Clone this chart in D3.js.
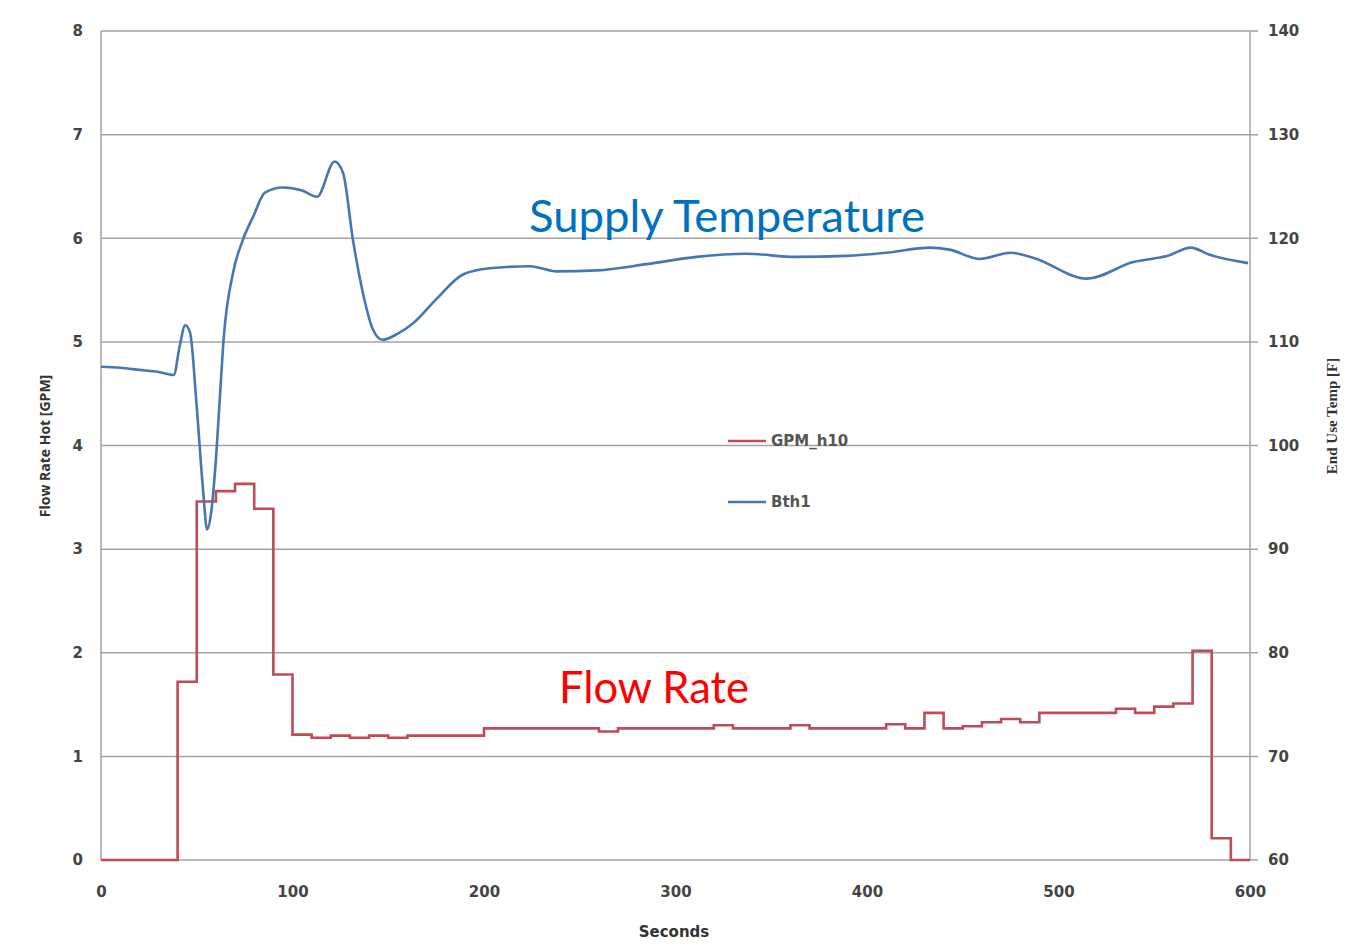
<!DOCTYPE html>
<html>
<head>
<meta charset="utf-8">
<script src="https://cdn.jsdelivr.net/npm/d3@7"></script>
<style>
  body { margin: 0; background: #fff; }
  svg { display: block; }
</style>
</head>
<body>
<svg width="1354" height="952"></svg>
<script>
// flow rate steps (seconds -> GPM), every 10 s
const flowTime = [0, 10, 20, 30, 40, 50, 60, 70, 80, 90, 100, 110, 120, 130, 140, 150, 160, 170, 180, 190,
  200, 210, 220, 230, 240, 250, 260, 270, 280, 290, 300, 310, 320, 330, 340, 350, 360, 370, 380, 390,
  400, 410, 420, 430, 440, 450, 460, 470, 480, 490, 500, 510, 520, 530, 540, 550, 560, 570, 580, 590, 600];
const flowGpm = [0, 0, 0, 0, 1.72, 3.46, 3.56, 3.63, 3.39, 1.79, 1.21, 1.18, 1.2, 1.18, 1.2, 1.18, 1.2, 1.2, 1.2, 1.2,
  1.27, 1.27, 1.27, 1.27, 1.27, 1.27, 1.24, 1.27, 1.27, 1.27, 1.27, 1.27, 1.3, 1.27, 1.27, 1.27, 1.3, 1.27, 1.27, 1.27,
  1.27, 1.31, 1.27, 1.42, 1.27, 1.29, 1.33, 1.36, 1.33, 1.42, 1.42, 1.42, 1.42, 1.46, 1.42, 1.48, 1.51, 2.02, 0.21, 0, 0];

// end use temperature (seconds -> F)
const tempTime = [0, 10, 20, 30, 38, 41, 44, 46.5, 50, 53.3, 55.4, 57.5, 59.5, 62, 64, 69, 74, 79.5, 85.6, 95,
  105, 112.8, 122, 126.4, 131.6, 136.8, 142, 147, 155, 163, 175, 189, 203, 224, 238, 259, 285, 311, 337,
  363, 389, 410, 433, 443, 459, 475, 487, 515, 539, 557, 569, 579, 599];
const tempF = [107.6, 107.5, 107.3, 107.1, 106.8, 109.5, 111.6, 110.9, 103.7, 95.7, 91.9, 93.5, 97.4, 104.4, 110.2, 116.7, 119.8, 122.1, 124.4, 124.9,
  124.6, 124.0, 127.4, 126.3, 119.8, 114.7, 111.2, 110.2, 110.8, 111.8, 114.1, 116.5, 117.1, 117.3, 116.8, 116.9, 117.5, 118.2, 118.5,
  118.2, 118.3, 118.6, 119.1, 118.9, 118.0, 118.6, 118.1, 116.1, 117.7, 118.3, 119.1, 118.4, 117.6];

const xTicks = [0, 100, 200, 300, 400, 500, 600];
const leftTicks = [0, 1, 2, 3, 4, 5, 6, 7, 8];
const rightTicks = [60, 70, 80, 90, 100, 110, 120, 130, 140];

const svg = d3.select("svg");
const plotLeft = 101, plotRight = 1250, plotTop = 31, plotBottom = 860;

const x = d3.scaleLinear().domain([0, 600]).range([plotLeft, plotRight]);
const yL = d3.scaleLinear().domain([0, 8]).range([plotBottom, plotTop]);
const yR = d3.scaleLinear().domain([60, 140]).range([plotBottom, plotTop]);

const numFont = "'DejaVu Sans', sans-serif";

// gridlines
svg.append("g")
  .selectAll("line")
  .data(leftTicks)
  .join("line")
  .attr("x1", plotLeft).attr("x2", plotRight + 8)
  .attr("y1", d => yL(d)).attr("y2", d => yL(d))
  .attr("stroke", "#a3a3a3").attr("stroke-width", 1.5);

// axis lines
svg.append("line").attr("x1", plotLeft).attr("x2", plotLeft).attr("y1", plotTop).attr("y2", plotBottom)
  .attr("stroke", "#a3a3a3").attr("stroke-width", 1.5);
svg.append("line").attr("x1", plotRight).attr("x2", plotRight).attr("y1", plotTop).attr("y2", plotBottom)
  .attr("stroke", "#a3a3a3").attr("stroke-width", 1.5);

// left axis
const gl = svg.append("g")
  .attr("transform", `translate(${plotLeft},0)`)
  .call(d3.axisLeft(yL).tickValues(leftTicks).tickSize(0).tickPadding(18));
gl.select(".domain").remove();
gl.selectAll("text").attr("font-family", numFont).attr("font-weight", "bold")
  .attr("font-size", 15).attr("fill", "#444");

// right axis
const gr = svg.append("g")
  .attr("transform", `translate(${plotRight},0)`)
  .call(d3.axisRight(yR).tickValues(rightTicks).tickSize(0).tickPadding(18));
gr.select(".domain").remove();
gr.selectAll("text").attr("font-family", numFont).attr("font-weight", "bold")
  .attr("font-size", 15).attr("fill", "#444");

// bottom axis
const gb = svg.append("g")
  .attr("transform", `translate(0,${plotBottom})`)
  .call(d3.axisBottom(x).tickValues(xTicks).tickSize(0).tickPadding(26));
gb.select(".domain").remove();
gb.selectAll("text").attr("font-family", numFont).attr("font-weight", "bold")
  .attr("font-size", 15).attr("fill", "#444");

// axis titles
svg.append("text")
  .attr("transform", "translate(50,446) rotate(-90)")
  .attr("text-anchor", "middle")
  .attr("font-family", "'Open Sans', sans-serif").attr("font-weight", "bold")
  .attr("font-size", 14).attr("fill", "#333")
  .text("Flow Rate Hot [GPM]");

svg.append("text")
  .attr("transform", "translate(1337,416) rotate(-90)")
  .attr("text-anchor", "middle")
  .attr("font-family", "'Liberation Serif', serif").attr("font-weight", "bold")
  .attr("font-size", 15).attr("fill", "#333")
  .text("End Use Temp [F]");

svg.append("text")
  .attr("x", 674).attr("y", 937)
  .attr("text-anchor", "middle")
  .attr("font-family", numFont).attr("font-weight", "bold")
  .attr("font-size", 15).attr("fill", "#333")
  .text("Seconds");

// series
const flowData = flowTime.map((t, i) => ({ t, v: flowGpm[i] }));
const tempData = tempTime.map((t, i) => ({ t, v: tempF[i] }));

svg.append("path")
  .datum(flowData)
  .attr("fill", "none")
  .attr("stroke", "#be4b55")
  .attr("stroke-width", 2.6)
  .attr("d", d3.line().x(d => x(d.t)).y(d => yL(d.v)).curve(d3.curveStepAfter));

svg.append("path")
  .datum(tempData)
  .attr("fill", "none")
  .attr("stroke", "#4676b4")
  .attr("stroke-width", 2.6)
  .attr("d", d3.line().x(d => x(d.t)).y(d => yR(d.v)).curve(d3.curveMonotoneX));

// legend
const legend = [{ name: "GPM_h10", color: "#be4b55", y: 441 }, { name: "Bth1", color: "#4676b4", y: 502 }];
const lg = svg.append("g").selectAll("g").data(legend).join("g")
  .attr("transform", d => `translate(728,${d.y})`);
lg.append("line").attr("x1", 0).attr("x2", 38).attr("y1", 0).attr("y2", 0)
  .attr("stroke", d => d.color).attr("stroke-width", 2.6);
lg.append("text").attr("x", 43).attr("y", 5)
  .attr("font-family", numFont).attr("font-weight", "bold")
  .attr("font-size", 15).attr("fill", "#555")
  .text(d => d.name);

// annotations
svg.append("text")
  .attr("x", 529).attr("y", 232)
  .attr("textLength", 396).attr("lengthAdjust", "spacingAndGlyphs")
  .attr("font-family", "Lato, 'Open Sans', sans-serif")
  .attr("font-size", 44).attr("fill", "#0070c0")
  .text("Supply Temperature");

svg.append("text")
  .attr("x", 559).attr("y", 703)
  .attr("textLength", 190).attr("lengthAdjust", "spacingAndGlyphs")
  .attr("font-family", "Lato, 'Open Sans', sans-serif")
  .attr("font-size", 44).attr("fill", "#ff0000")
  .text("Flow Rate");
</script>
</body>
</html>
